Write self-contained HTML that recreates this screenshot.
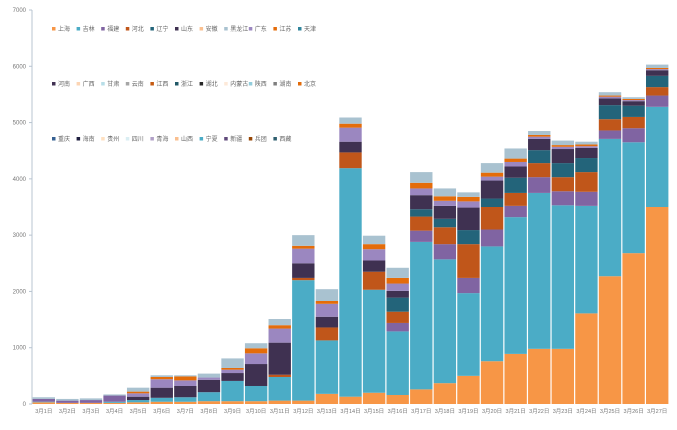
<!DOCTYPE html>
<html><head><meta charset="utf-8"><style>
body{margin:0;background:#fff;width:677px;height:425px;overflow:hidden}
svg text{font-family:"Liberation Sans","Noto Sans CJK SC",sans-serif}
</style></head><body>
<svg id="chart" width="677" height="425" xmlns="http://www.w3.org/2000/svg"></svg>
<script>
const categories = ["3月1日","3月2日","3月3日","3月4日","3月5日","3月6日","3月7日","3月8日","3月9日","3月10日","3月11日","3月12日","3月13日","3月14日","3月15日","3月16日","3月17日","3月18日","3月19日","3月20日","3月21日","3月22日","3月23日","3月24日","3月25日","3月26日","3月27日"];
const legendNames = ["上海","吉林","福建","河北","辽宁","山东","安徽","黑龙江","广东","江苏","天津","河南","广西","甘肃","云南","江西","浙江","湖北","内蒙古","陕西","湖南","北京","重庆","海南","贵州","四川","青海","山西","宁夏","新疆","兵团","西藏"];
const legendColors = ["#F79646","#4BACC6","#8064A2","#C0561A","#23647A","#3F3151","#FAC090","#A9C2D0","#9B87C0","#E46C0A","#31859C","#403152","#FCD5B4","#B7DEE8","#A6A6A6","#C55A11","#215967","#262626","#FDE9D9","#92CDDC","#7F7F7F","#E26B0A","#366092","#1F1F3F","#FFE0C0","#DAEEF3","#B1A0C7","#FABF8F","#4BACC6","#604A7B","#974706","#2F5F6F"];
const s_shanghai = [30,20,20,20,30,40,40,50,50,50,60,60,180,130,200,160,260,370,500,760,890,980,980,1610,2270,2680,3500];
const s_jilin = [10,0,0,20,40,70,80,160,360,270,420,2140,950,4060,1830,1130,2620,2200,1470,2040,2430,2770,2550,1910,2440,1970,1780];
const s_fujian = [50,40,50,110,0,0,0,0,0,0,0,0,0,0,0,150,200,270,270,300,200,280,250,250,150,250,200];
const s_hebei = [0,0,0,0,0,0,0,0,0,0,40,40,230,280,320,200,250,300,600,400,230,250,250,350,200,200,150];
const s_liaoning = [0,0,0,0,0,0,0,0,0,0,0,0,0,0,0,250,130,150,250,150,270,230,250,250,250,200,200];
const s_shandong = [0,0,0,0,60,180,200,220,140,390,570,260,190,190,200,120,250,230,400,320,200,200,250,180,120,80,100];
const s_guangdong = [0,0,0,0,60,150,100,40,60,190,250,260,230,250,200,130,120,90,110,70,80,40,40,30,30,20,20];
const s_jiangsu = [0,0,0,0,30,40,70,0,30,90,60,50,50,70,90,100,100,80,80,70,60,30,30,30,20,20,20];
const s_heilongjiang = [30,30,30,20,70,30,20,70,170,90,110,190,210,110,150,180,190,140,80,170,180,70,80,50,60,30,60];
const seriesData = [s_shanghai,s_jilin,s_fujian,s_hebei,s_liaoning,s_shandong,s_guangdong,s_jiangsu,s_heilongjiang];
const seriesIdx = [0,1,2,3,4,5,8,9,7];
const yTicks = [0,1000,2000,3000,4000,5000,6000,7000];

const NS="http://www.w3.org/2000/svg";
const svg=document.getElementById('chart');
const X0=32,X1=669,Y0=404,Y1=10,YMAX=7000;
const band=(X1-X0)/categories.length;
const y=v=>Y0-(v/YMAX)*(Y0-Y1);
const xb=i=>X0+i*band;
function mk(t,a){const e=document.createElementNS(NS,t);for(const k in a)e.setAttribute(k,a[k]);svg.appendChild(e);return e;}

const ax=mk('line',{x1:X0,y1:Y1,x2:X0,y2:Y0,stroke:'#B8C4D0','stroke-width':1});


yTicks.forEach(t=>{
  const tk=mk('line',{x1:X0-3,x2:X0,y1:y(t),y2:y(t),stroke:'#B8C4D0'});
  
  
  const tx=mk('text',{x:X0-6,y:y(t)+2,'text-anchor':'end','font-size':6,fill:'#777'});
  tx.textContent=t;
  
  
});
categories.forEach((c,i)=>{
  let cum=0;
  seriesData.forEach((s,k)=>{
    const v=s[i]; if(!v){return;}
    const r=mk('rect',{x:xb(i)+0.6,y:y(cum+v),width:band-1.2,height:y(cum)-y(cum+v),fill:legendColors[seriesIdx[k]]});
    
    
    cum+=v;
  });
  const lb=mk('text',{x:xb(i)+band/2,y:413,'text-anchor':'middle','font-size':5.5,fill:'#777'});
  lb.textContent=c;
  
  
});
legendNames.forEach((n,i)=>{
  const row=Math.floor(i/11),col=i%11;
  const lx=52+col*24.6,ly=29+row*55;
  const m=mk('rect',{x:lx,y:ly-2,width:3.5,height:3.5,fill:legendColors[i]});
  
  
  const t=mk('text',{x:lx+6,y:ly+2,'font-size':6,fill:'#666'});
  t.textContent=n;
  
  
});
</script>
</body></html>
